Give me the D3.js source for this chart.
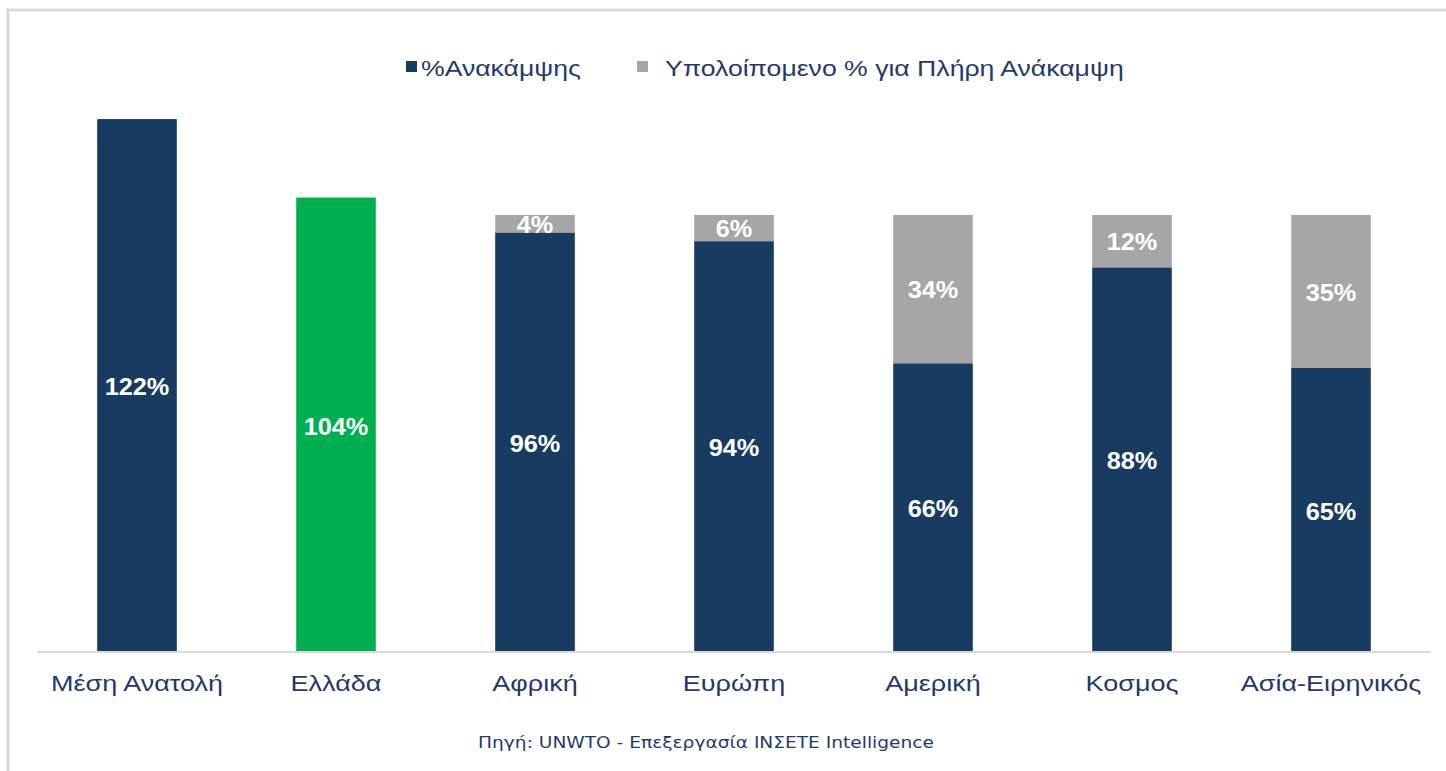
<!DOCTYPE html>
<html>
<head>
<meta charset="utf-8">
<script src="https://cdn.jsdelivr.net/npm/d3@7"></script>
<style>
  html, body { margin: 0; padding: 0; background: #fff; }
  svg { display: block; }
</style>
</head>
<body>
<svg id="chart" width="1446" height="771"></svg>
<script>
const categories = ["Μέση Ανατολή", "Ελλάδα", "Αφρική", "Ευρώπη", "Αμερική", "Κοσμος", "Ασία-Ειρηνικός"];
const recovery = [122, 104, 96, 94, 66, 88, 65];
const remaining = [0, 0, 4, 6, 34, 12, 35];
const seriesNames = ["%Ανακάμψης", "Υπολοίπομενο % για Πλήρη Ανάκαμψη"];
const sourceText = "Πηγή: UNWTO - Επεξεργασία ΙΝΣΕΤΕ Intelligence";

const NAVY = "#183b61";
const GREEN = "#00b050";
const GRAY = "#a6a6a6";
const TEXT = "#1f3a6b";
const FONT = "'Liberation Sans', Arial, sans-serif";
const STRETCH = 1.2;

const svg = d3.select("#chart");

// frame
svg.append("path")
  .attr("d", "M8,771 V10 H1446")
  .attr("fill", "none")
  .attr("stroke", "#d9d9d9")
  .attr("stroke-width", 3);

const x = d3.scaleBand().domain(categories).range([37.5, 1430.5]).paddingInner(0.6).paddingOuter(0.3);
const y = d3.scaleLinear().domain([0, 100]).range([651, 215]);

const data = categories.map((c, i) => ({ c, rec: recovery[i], rem: remaining[i], i }));

// recovery bars
svg.append("g").selectAll("rect").data(data).join("rect")
  .attr("x", d => x(d.c))
  .attr("width", x.bandwidth())
  .attr("y", d => y(d.rec))
  .attr("height", d => y(0) - y(d.rec))
  .attr("fill", d => d.c === "Ελλάδα" ? GREEN : NAVY);

// remaining bars
svg.append("g").selectAll("rect").data(data.filter(d => d.rem > 0)).join("rect")
  .attr("x", d => x(d.c))
  .attr("width", x.bandwidth())
  .attr("y", d => y(d.rec + d.rem))
  .attr("height", d => y(d.rec) - y(d.rec + d.rem))
  .attr("fill", GRAY);

// labels
const lab = svg.append("g").attr("font-family", FONT).attr("font-weight", "bold")
  .attr("font-size", 23).attr("fill", "#fff").attr("text-anchor", "middle");
lab.selectAll("text.rec").data(data).join("text").attr("class", "rec")
  .attr("transform", d => `translate(${x(d.c) + x.bandwidth() / 2},${(y(0) + y(d.rec)) / 2 + 2}) scale(1.1,1)`)
  .attr("dy", "0.36em")
  .text(d => d.rec + "%");
lab.selectAll("text.rem").data(data.filter(d => d.rem > 0)).join("text").attr("class", "rem")
  .attr("transform", d => `translate(${x(d.c) + x.bandwidth() / 2},${(y(d.rec) + y(d.rec + d.rem)) / 2 + 1}) scale(1.1,1)`)
  .attr("dy", "0.36em")
  .text(d => d.rem + "%");

// x axis
const xAxis = svg.append("g").attr("transform", "translate(0,651)")
  .call(d3.axisBottom(x).tickSize(0).tickPadding(24).tickSizeOuter(0));
xAxis.select(".domain").attr("stroke", "#d9d9d9").attr("stroke-width", 2).attr("d", "M37.5,1H1430.5");
xAxis.selectAll("text").attr("font-family", FONT).attr("font-size", 22.5).attr("fill", TEXT)
  .attr("transform", `scale(${STRETCH},1)`);

// legend
const legend = svg.append("g").attr("font-family", FONT).attr("font-size", 22).attr("fill", TEXT);
const legX = [406, 637];
const legColors = [NAVY, GRAY];
seriesNames.forEach((n, i) => {
  legend.append("rect").attr("x", legX[i]).attr("y", 61).attr("width", 11).attr("height", 11).attr("fill", legColors[i]);
  legend.append("text")
    .attr("transform", `translate(${legX[i] + (i === 0 ? 15 : 28)},76) scale(${STRETCH + 0.01},1)`)
    .text(n);
});

// source
svg.append("text")
  .attr("transform", `translate(706,748) scale(1.2,1)`)
  .attr("text-anchor", "middle")
  .attr("font-family", "'DejaVu Sans', Verdana, sans-serif").attr("font-size", 15.5).attr("fill", TEXT)
  .text(sourceText);
</script>
</body>
</html>
